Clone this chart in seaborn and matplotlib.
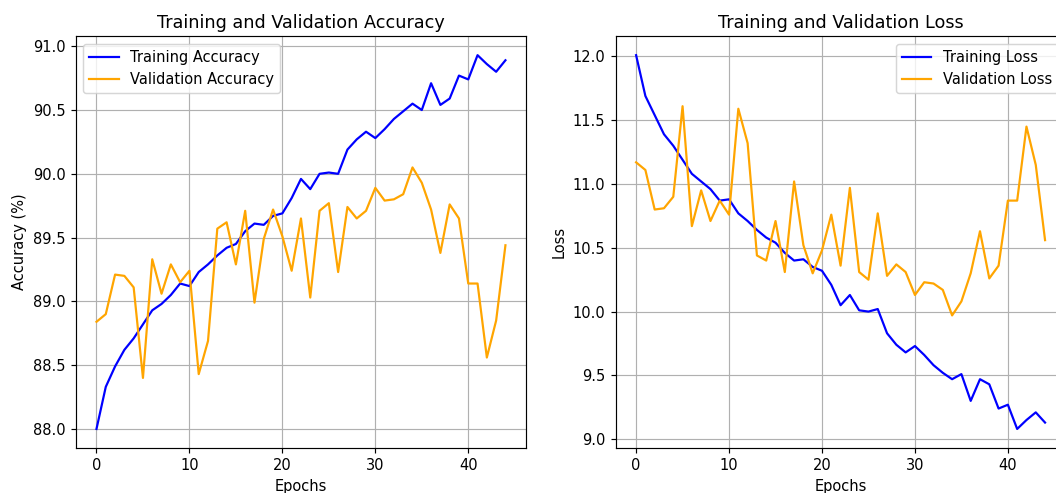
import matplotlib
matplotlib.use('Agg')
import matplotlib.pyplot as plt
import seaborn as sns

# per-epoch values
epochs = list(range(45))

train_acc = [88.00, 88.33, 88.49, 88.62, 88.71, 88.82, 88.93, 88.98, 89.05, 89.14,
             89.12, 89.23, 89.29, 89.36, 89.42, 89.45, 89.55, 89.61, 89.60, 89.67,
             89.69, 89.81, 89.96, 89.88, 90.00, 90.01, 90.00, 90.19, 90.27, 90.33,
             90.28, 90.35, 90.43, 90.49, 90.55, 90.50, 90.71, 90.54, 90.59, 90.77,
             90.74, 90.93, 90.86, 90.80, 90.89]
val_acc = [88.84, 88.90, 89.21, 89.20, 89.11, 88.40, 89.33, 89.06, 89.29, 89.15,
           89.24, 88.43, 88.69, 89.57, 89.62, 89.29, 89.71, 88.99, 89.49, 89.72,
           89.51, 89.24, 89.65, 89.03, 89.71, 89.77, 89.23, 89.74, 89.65, 89.71,
           89.89, 89.79, 89.80, 89.84, 90.05, 89.93, 89.72, 89.38, 89.76, 89.65,
           89.14, 89.14, 88.56, 88.85, 89.44]

train_loss = [12.01, 11.69, 11.54, 11.39, 11.30, 11.19, 11.08, 11.02, 10.96, 10.87,
              10.88, 10.77, 10.71, 10.64, 10.58, 10.54, 10.46, 10.40, 10.41, 10.35,
              10.32, 10.21, 10.05, 10.13, 10.01, 10.00, 10.02, 9.83, 9.74, 9.68,
              9.73, 9.66, 9.58, 9.52, 9.47, 9.51, 9.30, 9.47, 9.43, 9.24,
              9.27, 9.08, 9.15, 9.21, 9.13]
val_loss = [11.17, 11.11, 10.80, 10.81, 10.90, 11.61, 10.67, 10.95, 10.71, 10.87,
            10.76, 11.59, 11.32, 10.44, 10.40, 10.71, 10.31, 11.02, 10.52, 10.30,
            10.48, 10.76, 10.36, 10.97, 10.31, 10.25, 10.77, 10.28, 10.37, 10.31,
            10.13, 10.23, 10.22, 10.17, 9.97, 10.08, 10.30, 10.63, 10.26, 10.36,
            10.87, 10.87, 11.45, 11.15, 10.56]

DPI = 105.6
fig = plt.figure(figsize=(1056 / DPI, 493 / DPI), dpi=DPI)
ax1 = fig.add_axes([0.072, 0.092, 0.426, 0.834])
ax2 = fig.add_axes([0.583, 0.092, 0.426, 0.834])

# Accuracy
sns.lineplot(x=epochs, y=train_acc, ax=ax1, color='blue', label='Training Accuracy')
sns.lineplot(x=epochs, y=val_acc, ax=ax1, color='orange', label='Validation Accuracy')
ax1.set_title('Training and Validation Accuracy')
ax1.set_xlabel('Epochs')
ax1.set_ylabel('Accuracy (%)')
ax1.legend(loc='upper left')
ax1.grid(True)

# Loss
sns.lineplot(x=epochs, y=train_loss, ax=ax2, color='blue', label='Training Loss')
sns.lineplot(x=epochs, y=val_loss, ax=ax2, color='orange', label='Validation Loss')
ax2.set_title('Training and Validation Loss')
ax2.set_xlabel('Epochs')
ax2.set_ylabel('Loss')
ax2.legend(loc='upper right')
ax2.grid(True)

fig.savefig('out.png', dpi=DPI)
